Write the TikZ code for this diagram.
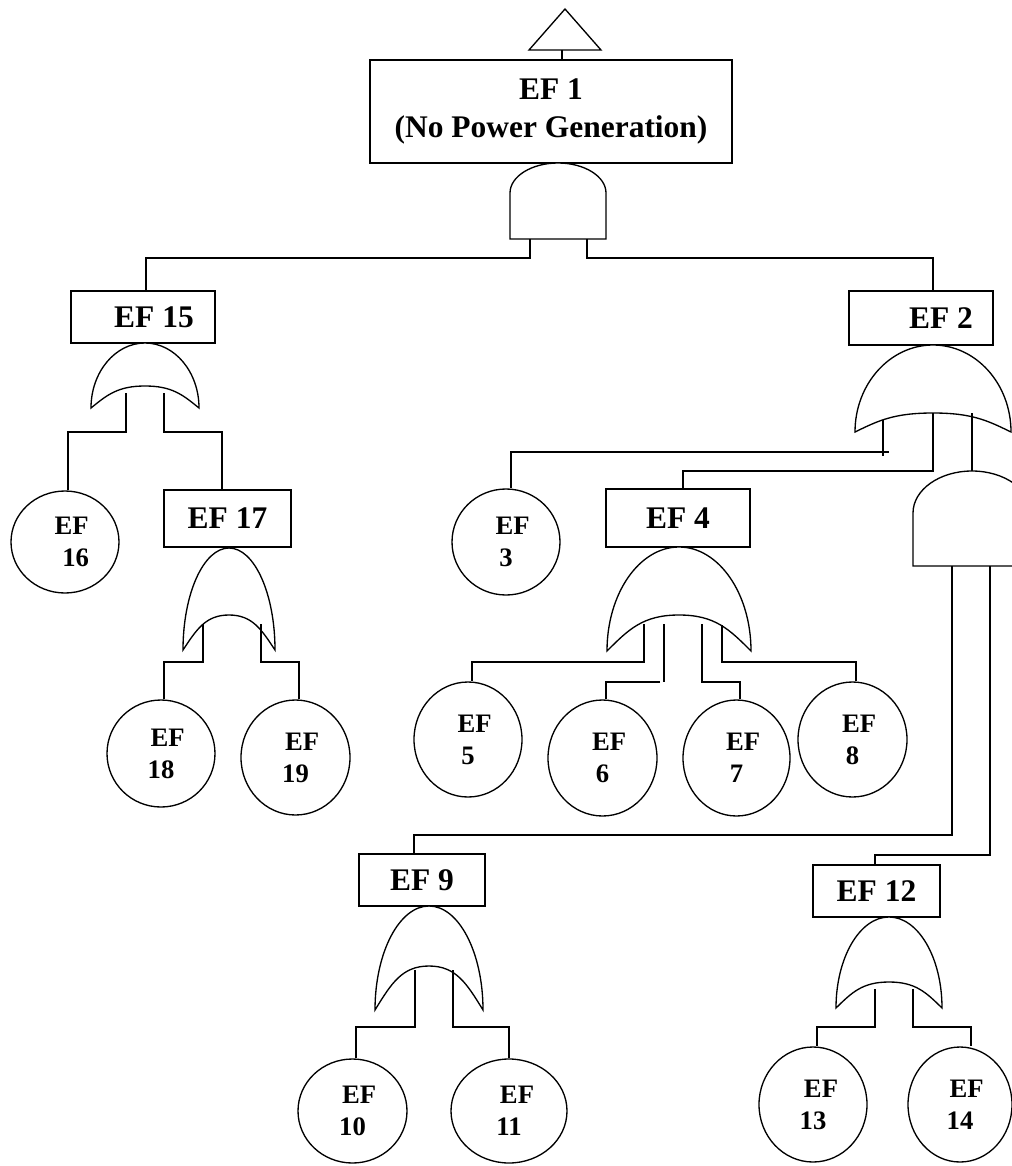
\documentclass[tikz,border=0pt]{standalone}
\usepackage{fontspec}
\setmainfont{Liberation Serif}
\usetikzlibrary{shapes.geometric,calc}

\tikzset{
  ln/.style={line width=1pt, line join=miter},
  boxnode/.style={draw, line width=1pt, rectangle, inner sep=0pt, align=center,
    font=\bfseries\fontsize{23.6}{28.5}\selectfont},
  evt/.style={draw, line width=1pt, ellipse, inner sep=0pt, align=center,
    font=\bfseries\fontsize{20}{24}\selectfont},
  gate/.style={draw, fill=white, line width=1pt},
}

% OR gate: centre x, top y, half width, tip y, inner apex y
\newcommand\orgate[5]{%
  \filldraw[gate] ({#1-#3},#4)
    .. controls ({#1-#3},{#4-0.552*(#4-#2)}) and ({#1-0.552*#3},#2) .. (#1,#2)
    .. controls ({#1+0.552*#3},#2) and ({#1+#3},{#4-0.552*(#4-#2)}) .. ({#1+#3},#4)
    .. controls ({#1+0.7*#3},{#4-0.6*(#4-#5)}) and ({#1+0.5*#3},#5) .. (#1,#5)
    .. controls ({#1-0.5*#3},#5) and ({#1-0.7*#3},{#4-0.6*(#4-#5)}) .. cycle;}

% AND gate: left x, right x, top y, shoulder y, bottom y
\newcommand\andgate[5]{%
  \filldraw[gate] (#1,#5) -- (#1,#4)
    .. controls (#1,{#4-0.552*(#4-#3)}) and ({(#1+#2)/2-0.552*(#2-#1)/2},#3) .. ({(#1+#2)/2},#3)
    .. controls ({(#1+#2)/2+0.552*(#2-#1)/2},#3) and (#2,{#4-0.552*(#4-#3)}) .. (#2,#4)
    -- (#2,#5) -- cycle;}

\begin{document}
\begin{tikzpicture}[x=0.75pt, y=-0.75pt, line width=1pt]
\useasboundingbox (0,0) rectangle (1012,1166);
\clip (0,0) rectangle (1012,1166);

% top event marker
\draw[ln] (529,50) -- (565,9) -- (601,50) -- cycle;
\coordinate (tri) at (562,50);

% intermediate events
\node[boxnode, minimum width=271.5pt, minimum height=77.25pt] (ef1) at (551,111.5) {EF 1\\(No Power Generation)};
\node[boxnode, minimum width=108pt, minimum height=39pt] (ef15) at (143,317) {\hspace*{16.5pt}EF 15};
\node[boxnode, minimum width=108pt, minimum height=40.5pt] (ef2) at (921,318) {\hspace*{30pt}EF 2};
\node[boxnode, minimum width=95.25pt, minimum height=42.75pt] (ef17) at (227.5,518.5) {EF 17};
\node[boxnode, minimum width=108pt, minimum height=43.5pt] (ef4) at (678,518) {EF 4};
\node[boxnode, minimum width=94.5pt, minimum height=39pt] (ef9) at (422,880) {EF 9};
\node[boxnode, minimum width=95.25pt, minimum height=39pt] (ef12) at (876.5,891) {EF 12};

% basic events
\node[evt, minimum width=81pt, minimum height=76.5pt] (ef16) at (65,542) {\hspace*{10pt}EF\\\hspace*{16pt}16};
\node[evt, minimum width=81pt, minimum height=79.5pt] (ef3) at (506,542) {\hspace*{10pt}EF\\3};
\node[evt, minimum width=81pt, minimum height=80.25pt] (ef18) at (161,753.5) {\hspace*{10pt}EF\\18};
\node[evt, minimum width=81.75pt, minimum height=86.25pt] (ef19) at (295.5,757.5) {\hspace*{10pt}EF\\19};
\node[evt, minimum width=81pt, minimum height=86.25pt] (ef5) at (468,739.5) {\hspace*{10pt}EF\\5};
\node[evt, minimum width=81.75pt, minimum height=87pt] (ef6) at (602.5,758) {\hspace*{10pt}EF\\6};
\node[evt, minimum width=80.25pt, minimum height=87pt] (ef7) at (736.5,758) {\hspace*{10pt}EF\\7};
\node[evt, minimum width=81.75pt, minimum height=86.25pt] (ef8) at (852.5,739.5) {\hspace*{10pt}EF\\8};
\node[evt, minimum width=81.75pt, minimum height=78pt] (ef10) at (352.5,1111) {\hspace*{10pt}EF\\10};
\node[evt, minimum width=87pt, minimum height=78pt] (ef11) at (509,1111) {\hspace*{12pt}EF\\11};
\node[evt, minimum width=81pt, minimum height=86.25pt] (ef13) at (813,1104.5) {\hspace*{12pt}EF\\13};
\node[evt, minimum width=78pt, minimum height=86.25pt] (ef14) at (960,1104.5) {\hspace*{10pt}EF\\14};

% gates
\andgate{510}{606}{163}{193}{239}
\orgate{145}{343}{54}{408}{386}
\orgate{933}{345}{78}{432}{413}
\orgate{229}{548}{46}{650}{615}
\orgate{679}{547}{72}{651}{615}
\andgate{913}{1031}{471}{513}{566}
\orgate{429}{906}{54}{1010}{966}
\orgate{889}{917}{53}{1008}{982}

% gate inputs
\coordinate (a1l) at (530,239);  \coordinate (a1r) at (587,239);
\coordinate (o15l) at (126,393); \coordinate (o15r) at (164,393);
\coordinate (o17l) at (203,624); \coordinate (o17r) at (261,624);
\coordinate (o2a) at (883,420);  \coordinate (o2b) at (933,413);
\coordinate (o2c) at (972,413);  \coordinate (a2top) at (972,471);
\coordinate (o4a) at (644,624);  \coordinate (o4b) at (664,624);
\coordinate (o4c) at (702,624);  \coordinate (o4d) at (722,625);
\coordinate (a2l) at (952,566);  \coordinate (a2r) at (990,566);
\coordinate (o9l) at (415,970);  \coordinate (o9r) at (453,970);
\coordinate (o12l) at (875,989); \coordinate (o12r) at (913,989);

% connectors
\draw[ln] (tri) -- (tri |- ef1.north);
\draw[ln] (a1l) -- ++(0,19) -| ($(ef15.north)+(3,0)$);
\draw[ln] (a1r) -- ++(0,19) -| ($(ef2.north)+(12,0)$);
\draw[ln] (o15l) -- ++(0,39) -| ($(ef16.north)+(3,0)$);
\draw[ln] (o15r) -- ++(0,39) -| ($(ef17.north)+(-5.5,0)$);
\draw[ln] (o17l) -- ++(0,38) -| ($(ef18.north)+(3,0)$);
\draw[ln] (o17r) -- ++(0,38) -| ($(ef19.north)+(3.5,0)$);
\draw[ln] (o2a) -- ++(0,36);
\draw[ln] ($(o2a)+(6,32)$) -| ($(ef3.north)+(5,0)$);
\draw[ln] (o2b) -- ++(0,58) -| ($(ef4.north)+(5,0)$);
\draw[ln] (o2c) -- (a2top);
\draw[ln] (o4a) -- ++(0,38) -| ($(ef5.north)+(4,0)$);
\draw[ln] (o4b) -- ++(0,58);
\draw[ln] ($(o4b)+(-4,58)$) -| ($(ef6.north)+(3.5,0)$);
\draw[ln] (o4c) -- ++(0,58) -| ($(ef7.north)+(3.5,0)$);
\draw[ln] (o4d) -- ++(0,37) -| ($(ef8.north)+(3.5,0)$);
\draw[ln] (a2l) -- ++(0,269) -| ($(ef9.north)+(-8,0)$);
\draw[ln] (a2r) -- ++(0,289) -| ($(ef12.north)+(-1.5,0)$);
\draw[ln] (o9l) -- ++(0,57) -| ($(ef10.north)+(3.5,0)$);
\draw[ln] (o9r) -- ++(0,57) -| (ef11.north);
\draw[ln] (o12l) -- ++(0,38) -| ($(ef13.north)+(4,0)$);
\draw[ln] (o12r) -- ++(0,38) -| ($(ef14.north)+(11,0)$);
\end{tikzpicture}
\end{document}
